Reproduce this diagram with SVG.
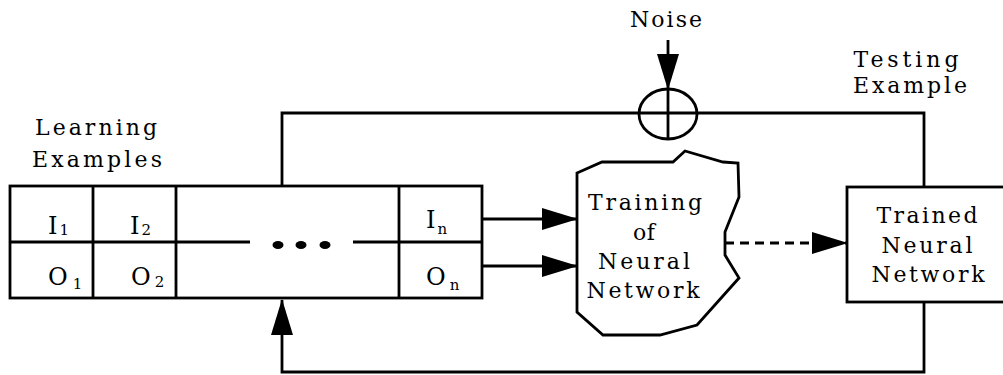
<svg xmlns="http://www.w3.org/2000/svg" width="1003" height="375" viewBox="0 0 1003 375">
<style>
.ln{fill:none;stroke:#000;stroke-width:2.8}
.bx{fill:#fff;stroke:#000;stroke-width:2.8}
.t{font-family:"DejaVu Serif","Liberation Serif",serif;font-size:22px;fill:#000}
.c{text-anchor:middle}
.sym{font-family:"DejaVu Serif","Liberation Serif",serif;font-size:24px;fill:#000}
.sub{font-size:15px}
</style>
<defs>
<marker id="arr" markerUnits="userSpaceOnUse" markerWidth="36" markerHeight="22" refX="35" refY="11" orient="auto">
<path d="M0,0 L36,11 L0,22 Z" fill="#000"/>
</marker>
</defs>
<rect width="1003" height="375" fill="#fff"/>
<g id="connectors">
<path class="ln" d="M282,186 V113 H924 V187"/>
<path class="ln" d="M924,302 V372 H282 V300" marker-end="url(#arr)"/>
<path class="ln" d="M668,40 V89" marker-end="url(#arr)"/>
<path class="ln" d="M482,219 H577" marker-end="url(#arr)"/>
<path class="ln" d="M482,266 H577" marker-end="url(#arr)"/>
<path class="ln" d="M725,243 H847" stroke-dasharray="9 6" stroke-width="2.2" marker-end="url(#arr)"/>
</g>
<g id="sum">
<ellipse cx="668" cy="114" rx="29" ry="25" class="ln"/>
<path class="ln" d="M668,89 V139"/>
</g>
<g id="noise-label"><text class="t c" x="666" y="27" textLength="72" lengthAdjust="spacing">Noise</text></g>
<g id="testing-label">
<text class="t c" x="906" y="67" textLength="105" lengthAdjust="spacing">Testing</text>
<text class="t c" x="910" y="93" textLength="114" lengthAdjust="spacing">Example</text>
</g>
<g id="learning-label">
<text class="t c" x="96" y="135" textLength="122" lengthAdjust="spacing">Learning</text>
<text class="t c" x="97" y="167" textLength="130" lengthAdjust="spacing">Examples</text>
</g>
<g id="table">
<rect class="bx" x="10" y="186" width="472" height="112"/>
<path class="ln" d="M93,186 V298 M176,186 V298 M399,186 V298 M10,242 H250 M353,242 H482"/>
<ellipse cx="278" cy="245" rx="5.5" ry="4" fill="#000"/>
<ellipse cx="301" cy="245" rx="5.5" ry="4" fill="#000"/>
<ellipse cx="325" cy="245" rx="5.5" ry="4" fill="#000"/>
<text class="sym" x="48" y="234">I<tspan class="sub" dx="2" dy="1">1</tspan></text>
<text class="sym" x="130" y="234">I<tspan class="sub" dx="2" dy="1">2</tspan></text>
<text class="sym" x="426" y="228">I<tspan class="sub" dx="2" dy="6">n</tspan></text>
<text class="sym" x="48" y="285">O<tspan class="sub" dx="5" dy="4">1</tspan></text>
<text class="sym" x="131" y="285">O<tspan class="sub" dx="4" dy="2">2</tspan></text>
<text class="sym" x="426" y="285">O<tspan class="sub" dx="4" dy="5">n</tspan></text>
</g>
<g id="training">
<path class="bx" d="M577,173 L602,162 L673,162 L685,151 L723,162 L738,163 L739,197 L725,232 L725,255 L739,278 L697,325 L660,335 L603,335 L577,312 Z"/>
<text class="t c" x="645" y="210" textLength="114" lengthAdjust="spacing">Training</text>
<text class="t c" x="644" y="240" textLength="22" lengthAdjust="spacing">of</text>
<text class="t c" x="644" y="269" textLength="92" lengthAdjust="spacing">Neural</text>
<text class="t c" x="643" y="298" textLength="113" lengthAdjust="spacing">Network</text>
</g>
<g id="trained">
<rect class="bx" x="847" y="187" width="170" height="115"/>
<text class="t c" x="927" y="223" textLength="101" lengthAdjust="spacing">Trained</text>
<text class="t c" x="927" y="253" textLength="91" lengthAdjust="spacing">Neural</text>
<text class="t c" x="928" y="282" textLength="113" lengthAdjust="spacing">Network</text>
</g>
</svg>
